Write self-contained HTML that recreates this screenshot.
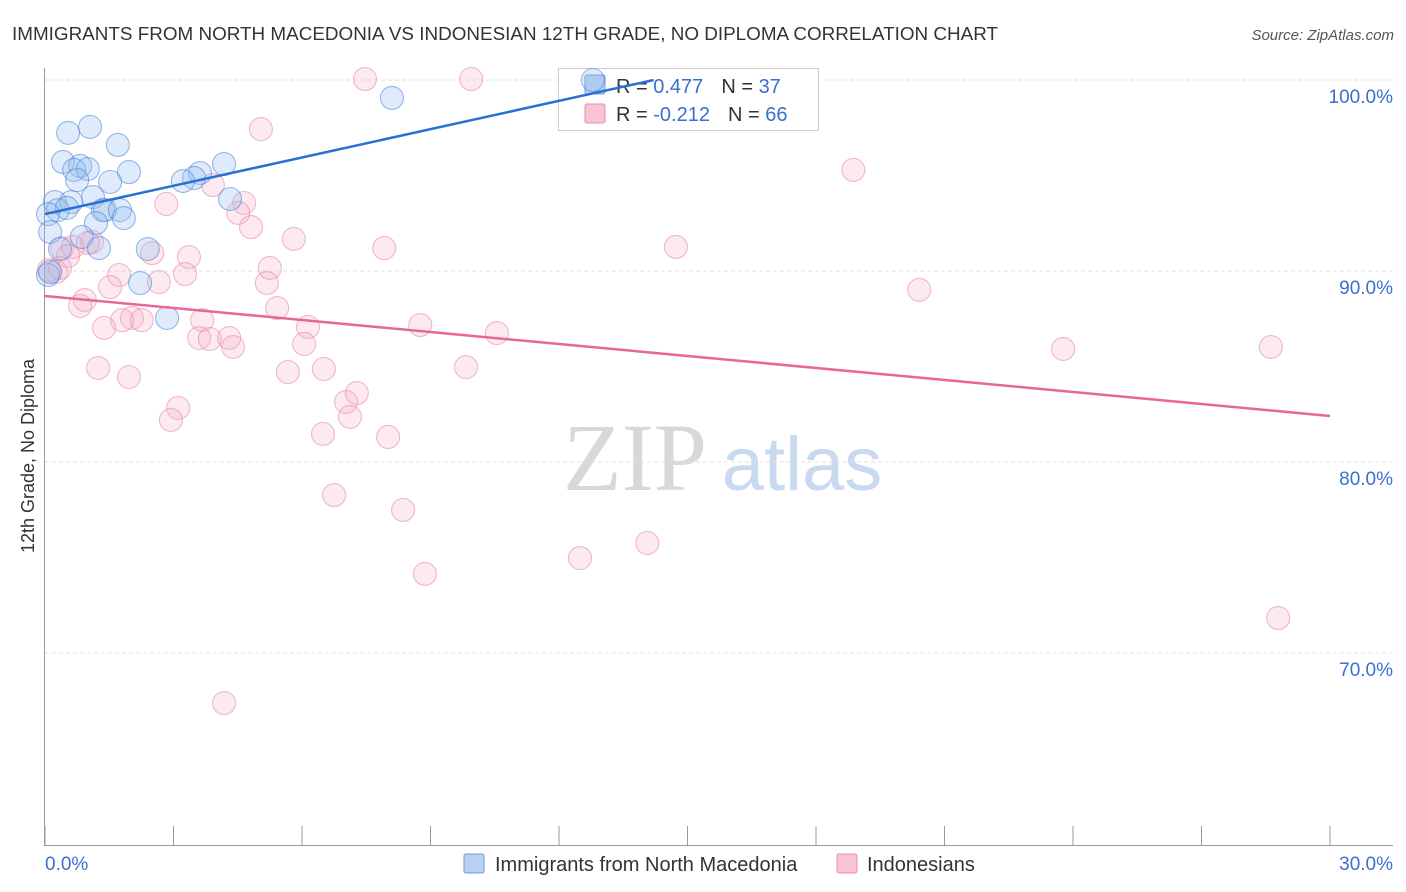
<!DOCTYPE html>
<html><head><meta charset="utf-8"><style>
body{margin:0;background:#fff;font-family:"Liberation Sans",sans-serif;}
svg{display:block}
</style></head><body>
<svg id="c" width="1406" height="892">
<text x="12" y="40" font-size="18" fill="#333" textLength="986" lengthAdjust="spacingAndGlyphs">IMMIGRANTS FROM NORTH MACEDONIA VS INDONESIAN 12TH GRADE, NO DIPLOMA CORRELATION CHART</text>
<text x="1394" y="40" font-size="15" fill="#555" font-style="italic" text-anchor="end">Source: ZipAtlas.com</text>
<text x="635" y="490" font-size="96" fill="#d8d8d8" font-family="Liberation Serif,serif" text-anchor="middle">ZIP</text>
<text x="802" y="490" font-size="76" fill="#c9d9f0" text-anchor="middle">atlas</text>
<g id="grid"></g>
<line x1="44.5" y1="68" x2="44.5" y2="845" stroke="#999"/>
<line x1="44" y1="845.5" x2="1393" y2="845.5" stroke="#999"/>
<text transform="translate(34,456) rotate(-90)" font-size="18" fill="#333" text-anchor="middle">12th Grade, No Diploma</text>
<text x="45" y="870" font-size="19" fill="#3a6fd0">0.0%</text>
<text x="1393" y="870" font-size="19" fill="#3a6fd0" text-anchor="end">30.0%</text>
<g>
<rect x="558.5" y="68.5" width="260" height="62" fill="#fff" stroke="#ccc"/>
<rect x="585" y="75" width="20" height="19" fill="#b9d1f3" stroke="#6d9be0" rx="2"/>
<rect x="585" y="104" width="20" height="19" fill="#f9c3d3" stroke="#ea8fab" rx="2"/>
<text x="616" y="93" font-size="20" fill="#333">R = <tspan fill="#3a6fd0">0.477</tspan><tspan dx="18">N = </tspan><tspan fill="#3a6fd0">37</tspan></text>
<text x="616" y="121" font-size="20" fill="#333">R = <tspan fill="#3a6fd0">-0.212</tspan><tspan dx="18">N = </tspan><tspan fill="#3a6fd0">66</tspan></text>
</g>
<g id="pts"></g>
<g id="lines"></g>
<g>
<rect x="464" y="854" width="20" height="19" fill="#b9d1f3" stroke="#6d9be0" rx="2"/>
<text x="495" y="871" font-size="20" fill="#333">Immigrants from North Macedonia</text>
<rect x="837" y="854" width="20" height="19" fill="#f9c3d3" stroke="#ea8fab" rx="2"/>
<text x="867" y="871" font-size="20" fill="#333">Indonesians</text>
</g>
</svg>
<script>
const yTicks=[100,90,80,70];
const yTickLabels=["100.0%","90.0%","80.0%","70.0%"];
const xTicks=[0,3,6,9,12,15,18,21,24,27,30];
const blueX=[12.79,8.10,1.05,0.54,1.70,0.42,0.82,0.68,1.00,1.96,4.18,3.62,3.48,3.22,1.52,0.75,1.12,4.32,0.23,0.61,0.30,0.51,0.07,1.35,1.40,1.75,1.84,1.19,0.12,0.86,0.35,1.26,2.40,0.07,2.22,2.85,0.12];
const blueY=[100.0,99.06,97.54,97.23,96.60,95.71,95.50,95.29,95.34,95.18,95.60,95.13,94.87,94.71,94.66,94.76,93.87,93.77,93.61,93.61,93.19,93.30,92.98,93.19,93.19,93.19,92.77,92.51,92.04,91.78,91.15,91.20,91.15,89.79,89.37,87.54,89.95];
const pinkX=[7.47,9.95,5.04,18.87,3.92,2.83,4.65,4.51,4.81,5.81,7.92,14.73,0.40,1.10,0.65,0.54,2.50,3.36,5.25,0.09,0.26,1.73,3.27,5.18,20.41,1.52,2.66,0.93,0.82,5.42,2.03,1.80,2.26,3.67,6.14,8.76,10.55,1.38,3.60,3.85,4.30,4.39,6.05,23.77,28.62,5.67,6.51,9.83,1.24,1.96,7.28,7.03,3.11,2.94,7.12,6.49,8.01,6.75,8.36,8.87,12.49,14.06,28.79,4.18,1.00,0.35];
const pinkY=[100.05,100.05,97.43,95.29,94.50,93.51,93.56,93.04,92.30,91.68,91.20,91.26,91.20,91.52,91.26,90.79,90.94,90.73,90.16,90.05,89.95,89.79,89.84,89.37,89.01,89.16,89.42,88.48,88.17,88.06,87.54,87.43,87.43,87.43,87.07,87.17,86.75,87.02,86.49,86.44,86.49,86.02,86.18,85.92,86.02,84.71,84.87,84.97,84.92,84.45,83.61,83.14,82.83,82.20,82.36,81.47,81.31,78.27,77.49,74.14,74.97,75.76,71.83,67.38,91.47,90.16];
const blueTrend=[92.98,0.494];
const pinkTrend=[88.69,-0.2093];
const NS='http://www.w3.org/2000/svg';
const sx=v=>45+v*(1285/30);
const sy=v=>80+(100-v)*19.1;
function mk(t,a,p){const e=document.createElementNS(NS,t);for(const k in a)e.setAttribute(k,a[k]);p.appendChild(e);return e;}
const grid=document.getElementById('grid');
yTicks.forEach((t,i)=>{
 const l=mk('line',{x1:45,x2:1393,y1:sy(t),y2:sy(t),stroke:'#e2e2e2','stroke-dasharray':'4,3'},grid);
 
 
 const tx=mk('text',{x:1393,y:sy(t)+23,'font-size':19,fill:'#3a6fd0','text-anchor':'end'},grid);
 tx.textContent=yTickLabels[i];
 
 
});
xTicks.forEach(t=>{
 const l=mk('line',{x1:sx(t),x2:sx(t),y1:826,y2:845,stroke:'#999'},grid);
 
 
});
const pts=document.getElementById('pts');
pinkX.forEach((x,i)=>{
 const c=mk('circle',{cx:sx(x),cy:sy(pinkY[i]),r:11.5,fill:'rgba(244,170,195,0.25)',stroke:'rgba(232,130,165,0.55)','stroke-width':1.1},pts);
 
 
});
blueX.forEach((x,i)=>{
 const c=mk('circle',{cx:sx(x),cy:sy(blueY[i]),r:11.5,fill:'rgba(150,188,238,0.3)',stroke:'rgba(70,130,215,0.55)','stroke-width':1.1},pts);
 
 
});
const lines=document.getElementById('lines');
const bxEnd=Math.min(30,(100-blueTrend[0])/blueTrend[1]);
const bl=mk('line',{x1:sx(0),y1:sy(blueTrend[0]),x2:sx(bxEnd),y2:sy(blueTrend[0]+blueTrend[1]*bxEnd),stroke:'#2a6fd6','stroke-width':2.5},lines);


const pl=mk('line',{x1:sx(0),y1:sy(pinkTrend[0]),x2:sx(30),y2:sy(pinkTrend[0]+pinkTrend[1]*30),stroke:'#e8679a','stroke-width':2.5},lines);


</script>
</body></html>
